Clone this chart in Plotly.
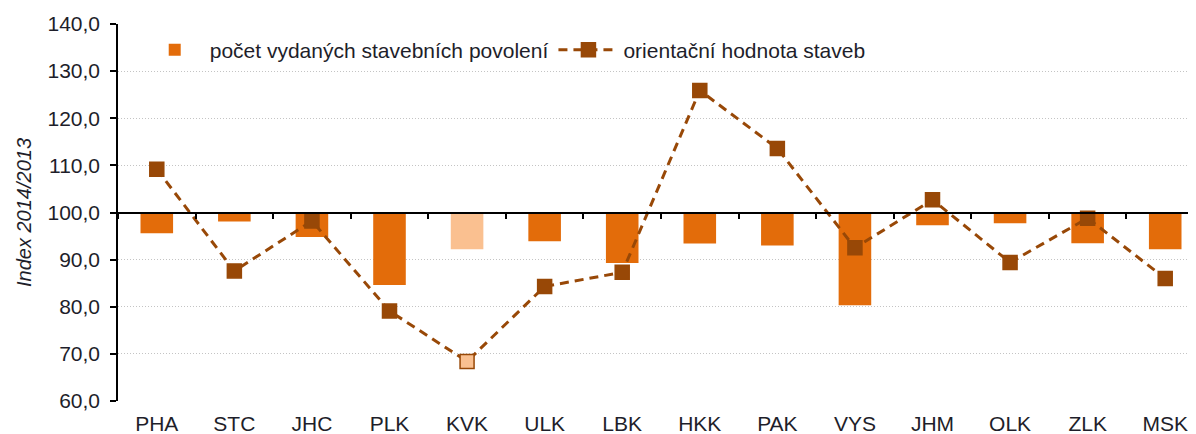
import plotly.graph_objects as go

regions = ["PHA", "STC", "JHC", "PLK", "KVK", "ULK", "LBK", "HKK", "PAK", "VYS", "JHM", "OLK", "ZLK", "MSK"]
permits = [95.6, 98.1, 94.8, 84.6, 92.2, 93.9, 89.3, 93.4, 93.0, 80.3, 97.3, 97.7, 93.5, 92.2]
value_idx = [109.2, 87.6, 98.2, 79.1, 68.4, 84.3, 87.3, 125.9, 113.6, 92.5, 102.7, 89.4, 98.8, 86.0]
y_ticks = [60, 70, 80, 90, 100, 110, 120, 130, 140]
y_tick_text = ["60,0", "70,0", "80,0", "90,0", "100,0", "110,0", "120,0", "130,0", "140,0"]
highlight = "KVK"

ORANGE = "#E36C0A"
LIGHT = "#FAC090"
BROWN = "#984807"
TXT = "#1e1e2a"
FONT = "Liberation Sans, Arial, sans-serif"

bar_colors = [LIGHT if r == highlight else ORANGE for r in regions]
mk_colors = [LIGHT if r == highlight else BROWN for r in regions]

fig = go.Figure()
fig.add_trace(go.Bar(
    x=regions, y=[p - 100 for p in permits], base=100,
    marker=dict(color=bar_colors, line=dict(width=0)),
    width=0.42, name="počet vydaných stavebních povolení",
))
fig.add_trace(go.Scatter(
    x=regions, y=value_idx, mode="lines+markers",
    line=dict(color=BROWN, width=3, dash="9px,6px"),
    marker=dict(symbol="square", size=14, color=mk_colors,
                line=dict(color=BROWN, width=1.5)),
    name="orientační hodnota staveb",
))
# invisible trace for the category axis drawn at 100
fig.add_trace(go.Scatter(x=regions, y=[100] * len(regions), xaxis="x2",
                         mode="markers", marker=dict(opacity=0), showlegend=False,
                         hoverinfo="skip"))

xr = [-0.5, 13.5]
fig.update_layout(
    width=1196, height=434,
    margin=dict(l=110, r=0, t=16, b=41),
    plot_bgcolor="white", paper_bgcolor="white",
    font=dict(family=FONT, color=TXT, size=20),
    showlegend=True,
    legend=dict(orientation="h", x=0.02, y=0.931, xanchor="left", yanchor="middle",
                font=dict(size=21, color=TXT), bgcolor="rgba(0,0,0,0)",
                itemwidth=60, tracegroupgap=0),
    xaxis=dict(type="category", categoryarray=regions, range=xr,
               showline=False, ticks="", showgrid=False, zeroline=False,
               ticklabelstandoff=8,
               tickfont=dict(size=21, color=TXT)),
    xaxis2=dict(type="category", categoryarray=regions, range=xr,
                overlaying="x", anchor="free", position=0.5,
                showline=True, linecolor="black", linewidth=1.5,
                ticks="outside", ticklen=6, tickwidth=1.5, tickcolor="black",
                tickson="boundaries", showticklabels=False, showgrid=False,
                zeroline=False),
    yaxis=dict(range=[60, 140], tickvals=y_ticks, ticktext=y_tick_text,
               showline=True, linecolor="black", linewidth=1.5,
               ticks="outside", ticklen=6, tickwidth=1.5, tickcolor="black",
               ticklabelstandoff=6,
               showgrid=True, gridcolor="#c4c4c4", griddash="1px,2px", gridwidth=1,
               zeroline=False, tickfont=dict(size=21, color=TXT),
               title=dict(text="<i>Index 2014/2013</i>", font=dict(size=20, color=TXT),
                          standoff=10)),
)
fig.write_html("out.html")
